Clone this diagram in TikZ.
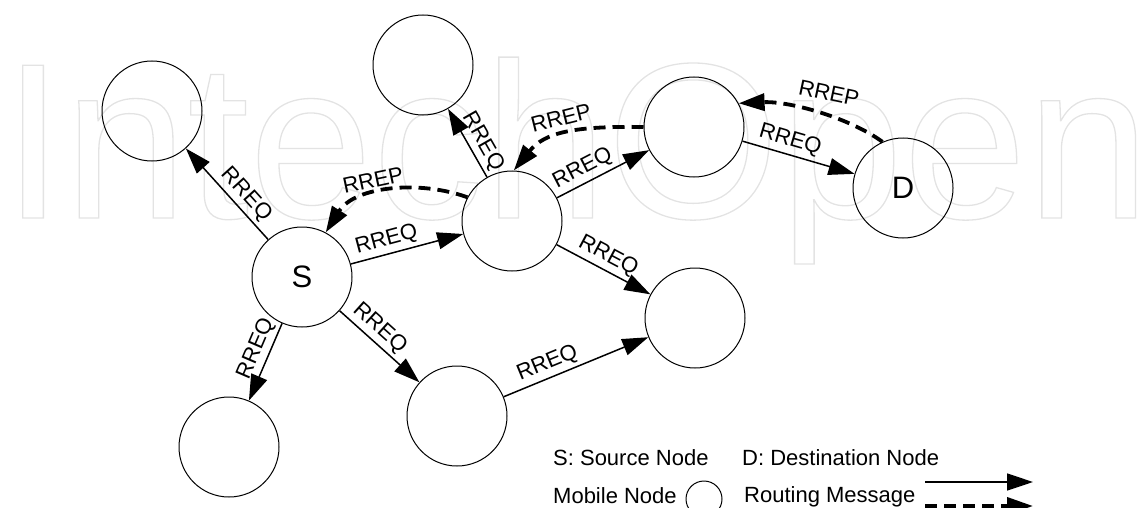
\documentclass[tikz,border=0pt]{standalone}
\usepackage{fontspec}
\setmainfont{Liberation Sans}
\usetikzlibrary{arrows.meta}

\begin{document}
\begin{tikzpicture}[x=1pt,y=-1pt,
  mnode/.style={circle,draw,line width=1pt,minimum size=100pt,inner sep=0pt,
                font=\fontsize{31}{31}\selectfont},
  tip/.style={-{Triangle[length=26pt,width=17pt]}},
  req/.style={tip,line width=1.5pt},
  rep/.style={tip,line width=3.8pt,dash pattern=on 12pt off 7pt},
  lbl/.style={font=\fontsize{22}{22}\selectfont,inner sep=3.5pt},
  rlbl/.style={font=\fontsize{22}{22}\selectfont,inner sep=0pt},
  leg/.style={font=\fontsize{22}{22}\selectfont,inner sep=0pt,anchor=base west}]
\useasboundingbox (0,0) rectangle (1145,508);
\clip (0,0) rectangle (1145,508);

% outlined background lettering
\node[anchor=base west,inner sep=0pt,font=\fontsize{222}{222}\selectfont] (wm) at (2,218)
  {\special{pdf:literal direct 1 Tr 1.3 w 0.89 G}IntechOpen\special{pdf:literal direct 0 Tr 0 G 1 w}};

% mobile nodes
\node[mnode] (A) at (152,111) {};
\node[mnode] (B) at (423,65) {};
\node[mnode] (C) at (512,221) {};
\node[mnode] (E) at (694,127) {};
\node[mnode] (D) at (903,188) {D};
\node[mnode] (S) at (302,277) {S};
\node[mnode] (F) at (229,447) {};
\node[mnode] (G) at (457,416) {};
\node[mnode] (H) at (695,318) {};

% route requests
\draw[req] (S) -- node[lbl,sloped,above,pos=0.39] {RREQ} (A);
\draw[req] (S) -- node[lbl,sloped,above,pos=0.35] {RREQ} (C);
\draw[req] (S) -- node[lbl,sloped,above,pos=0.4] {RREQ} (F);
\draw[req] (S) -- node[lbl,sloped,above,pos=0.39] {RREQ} (G);
\draw[req] (C) -- node[lbl,sloped,above,pos=0.42] {RREQ} (B);
\draw[req] (C) -- node[lbl,sloped,above,pos=0.35] {RREQ} (E);
\draw[req] (C) -- node[lbl,sloped,above,pos=0.48] {RREQ} (H);
\draw[req] (G) -- node[lbl,sloped,above,pos=0.34] {RREQ} (H);
\draw[req] (E) -- node[lbl,sloped,above,pos=0.39] {RREQ} (D);

% route replies
\draw[rep] (D.114) .. controls (850,118) and (790,101) .. (E.28);
\draw[rep] (E.west) .. controls (575,126) and (545,132) .. (C.88);
\draw[rep] (C.152) .. controls (420,180) and (355,186) .. (S.62);
\node[rlbl,rotate=-12] (r1) at (829,93) {RREP};
\node[rlbl,rotate=14] (r2) at (561,118) {RREP};
\node[rlbl,rotate=12] (r3) at (373,180) {RREP};

% legend
\node[leg] (l1) at (553,465) {S: Source Node};
\node[leg] (l2) at (742,465) {D: Destination Node};
\node[leg] (l3) at (553,503) {Mobile Node};
\node[circle,draw,line width=1pt,minimum size=36pt,inner sep=0pt] (lc) at (704,499) {};
\node[leg] (l4) at (744,502) {Routing Message};
\coordinate (a1) at (925,482);
\coordinate (a2) at (1033,482);
\coordinate (b1) at (925,506);
\coordinate (b2) at (1033,506);
\draw[req] (a1) -- (a2);
\draw[rep] (b1) -- (b2);
\end{tikzpicture}
\end{document}
